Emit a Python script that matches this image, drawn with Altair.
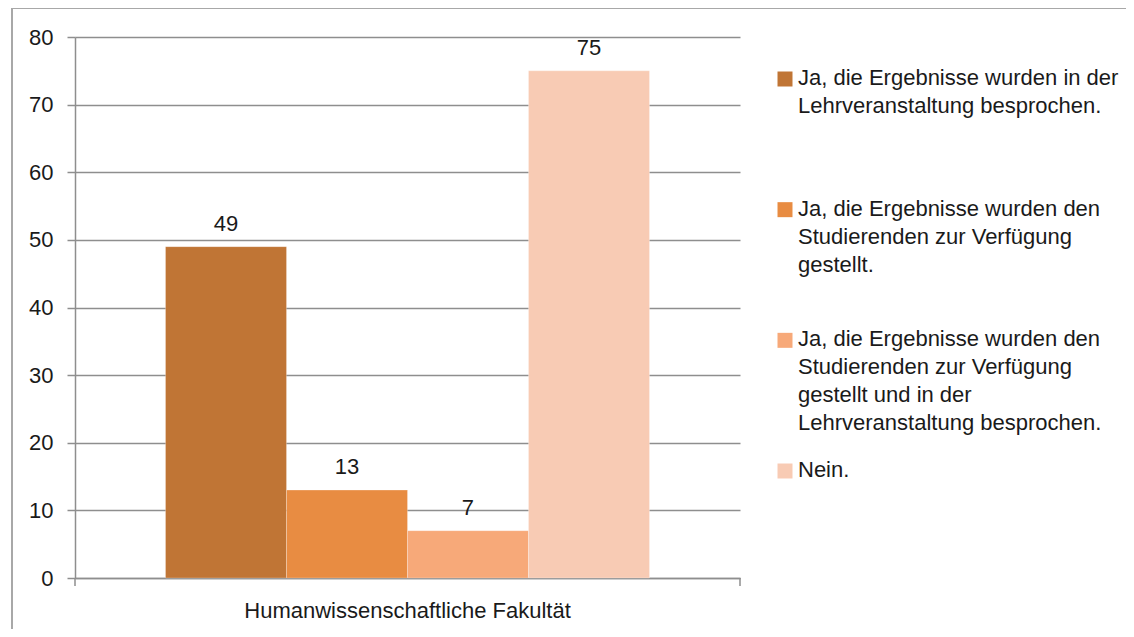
import altair as alt
import pandas as pd

faculty = "Humanwissenschaftliche Fakultät"
series = [
    "Ja, die Ergebnisse wurden in der Lehrveranstaltung besprochen.",
    "Ja, die Ergebnisse wurden den Studierenden zur Verfügung gestellt.",
    "Ja, die Ergebnisse wurden den Studierenden zur Verfügung gestellt und in der Lehrveranstaltung besprochen.",
    "Nein.",
]
legend_lines = [
    "Ja, die Ergebnisse wurden in der\nLehrveranstaltung besprochen.",
    "Ja, die Ergebnisse wurden den\nStudierenden zur Verfügung\ngestellt.",
    "Ja, die Ergebnisse wurden den\nStudierenden zur Verfügung\ngestellt und in der\nLehrveranstaltung besprochen.",
    "Nein.",
]
values = [49, 13, 7, 75]
colors = ["#C07535", "#E88C42", "#F7A979", "#F8CBB4"]
y_ticks = [0, 10, 20, 30, 40, 50, 60, 70, 80]

df = pd.DataFrame({
    "faculty": [faculty] * len(series),
    "series": series,
    "value": values,
    "legend": legend_lines,
})

FONT = "Liberation Sans"
GRID = "#8E8E8E"
TEXT = "#1A1A1A"

color_scale = alt.Scale(domain=series, range=colors)

x_enc = alt.X(
    "faculty:N",
    title=None,
    scale=alt.Scale(paddingInner=0, paddingOuter=0.187),
    axis=alt.Axis(
        labelAngle=0, ticks=False, domainColor=GRID, domainWidth=1.5,
        labelFont=FONT, labelFontSize=22, labelColor=TEXT, labelPadding=22,
        labelLimit=1000, grid=False,
    ),
)
xoff = alt.XOffset("series:N", sort=series, scale=alt.Scale(paddingInner=0, paddingOuter=0))
y_enc = alt.Y(
    "value:Q",
    title=None,
    scale=alt.Scale(domain=[0, 80], nice=False),
    axis=alt.Axis(
        values=y_ticks, tickSize=8, tickColor=GRID, tickWidth=1.5,
        domainColor=GRID, domainWidth=1.5, gridColor=GRID, gridWidth=1.5,
        labelFont=FONT, labelFontSize=22, labelColor=TEXT, labelPadding=14,
    ),
)

bars = alt.Chart(df).mark_bar(stroke="#FFFFFF", strokeOpacity=0.25, strokeWidth=1).encode(
    x=x_enc,
    xOffset=xoff,
    y=y_enc,
    color=alt.Color("series:N", scale=color_scale, legend=None),
)

labels = alt.Chart(df).mark_text(
    baseline="alphabetic", dy=-16, font=FONT, fontSize=22, color=TEXT
).encode(
    x=alt.X("faculty:N"),
    xOffset=xoff,
    y=alt.Y("value:Q"),
    text=alt.Text("value:Q"),
)

main = alt.layer(bars, labels)

leg_y = alt.Y("series:N", sort=series, axis=None,
              scale=alt.Scale(type="point", range=[42, 434], padding=0))

leg_sq = alt.Chart(df).mark_square(size=225, opacity=1).encode(
    x=alt.value(710),
    y=leg_y,
    color=alt.Color("series:N", scale=color_scale, legend=None),
)

leg_txt = alt.Chart(df).mark_text(
    align="left", baseline="top", dy=-11, lineBreak="\n", lineHeight=28,
    font=FONT, fontSize=22, color=TEXT,
).encode(
    x=alt.value(723),
    y=leg_y,
    text="legend:N",
)

legend = alt.layer(leg_sq, leg_txt)

# x-axis edge ticks and outer frame
edge_ticks = alt.Chart(pd.DataFrame({"e": [0, 1]})).mark_rule(color=GRID, strokeWidth=1.5).encode(
    x=alt.X("e:Q", scale=alt.Scale(domain=[0, 1]), axis=None),
    y=alt.value(541), y2=alt.value(549),
)
frame_top = alt.Chart(pd.DataFrame({"a": [0]})).mark_rule(color="#A8A8A8", strokeWidth=2).encode(
    x=alt.value(-63), x2=alt.value(1200), y=alt.value(-29),
)
frame_left = alt.Chart(pd.DataFrame({"a": [0]})).mark_rule(color="#A8A8A8", strokeWidth=2).encode(
    x=alt.value(-63), y=alt.value(-29), y2=alt.value(800),
)

inner = alt.layer(main, legend).resolve_scale(y="independent")

chart = alt.layer(inner, edge_ticks, frame_top, frame_left).resolve_scale(x="independent").properties(
    width=665,
    height=541,
    autosize=alt.AutoSizeParams(type="none"),
    padding={"left": 67, "top": 29, "right": 386, "bottom": 51},
    background="#FFFFFF",
).configure_view(stroke=None)

chart.save("out.html", embed_options={"renderer": "svg", "actions": False})
